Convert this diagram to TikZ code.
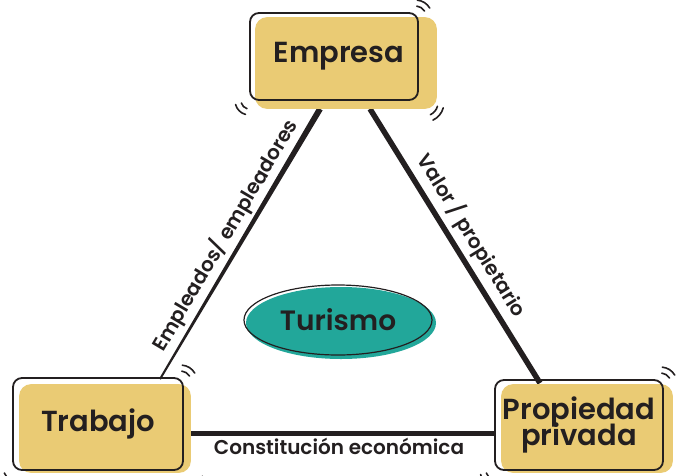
\documentclass[tikz,border=0pt]{standalone}
\usepackage{fontspec}
\setmainfont{Poppins}[BoldFont={Poppins SemiBold}]
\usetikzlibrary{shapes.geometric,calc}
\definecolor{boxy}{HTML}{EACB74}
\definecolor{tealfill}{HTML}{22A79A}
\definecolor{ink}{HTML}{231F20}
\pgfdeclarelayer{lines}
\pgfdeclarelayer{fills}
\pgfsetlayers{lines,fills,main}
\newcommand\cornerticks[1]{%
  \draw[ticks] ($(#1.north east)+(-3,4)+(-85:10)$) arc[start angle=-85, end angle=-30, radius=10];
  \draw[ticks] ($(#1.north east)+(-3,4)+(-85:16)$) arc[start angle=-85, end angle=-30, radius=16];
  \draw[ticks] ($(#1.south west)+(105:8)$) arc[start angle=105, end angle=165, radius=8];
  \draw[ticks] ($(#1.south west)+(105:14)$) arc[start angle=105, end angle=165, radius=14];
  \draw[ticks] ($(#1.south east)+(6,2)+(15:13)$) arc[start angle=15, end angle=65, radius=13];
  \draw[ticks] ($(#1.south east)+(6,2)+(15:19)$) arc[start angle=15, end angle=65, radius=19];
}
\begin{document}
\begin{tikzpicture}[x=1pt,y=-1pt,
  box/.style={draw=ink, line width=1.8pt, rounded corners=9pt, text=ink,
    font=\bfseries\fontsize{29}{29}\selectfont, align=center, inner sep=0pt},
  ticks/.style={draw=ink, line width=1.6pt, line cap=round},
  lbl/.style={text=ink, font=\bfseries\fontsize{20}{22}\selectfont, inner sep=3pt}]
\useasboundingbox (0,0) rectangle (678,475);
\node[box, minimum width=168pt, minimum height=87pt] (emp) at (334,56.5) {\hspace*{10pt}Empresa};
\node[box, minimum width=170pt, minimum height=92pt] (tra) at (98,424) {Trabajo};
\node[box, minimum width=168pt, minimum height=90pt] (pro) at (579,425) {Propiedad\\[-6pt]privada};
\node[ellipse, draw=ink, line width=1.2pt, minimum width=188pt, minimum height=70pt,
  text=ink, font=\bfseries\fontsize{28}{28}\selectfont, inner sep=0pt] (tur) at (338,320) {Turismo};
\coordinate (l1) at ($(emp.south)+(-14,8)$);
\coordinate (l2) at ($(tra.north)+(62,2)$);
\begin{pgfonlayer}{fills}
  \fill[boxy, rounded corners=12pt] ($(emp.north west)+(6,5)$) rectangle ($(emp.south east)+(18,8)$);
  \fill[boxy, rounded corners=12pt] ($(tra.north west)+(7,7)$) rectangle ($(tra.south east)+(7,2)$);
  \fill[boxy, rounded corners=12pt] ($(pro.north west)+(7,5)$) rectangle ($(pro.south east)+(9,2)$);
  \fill[tealfill] ($(tur.center)+(3,3)$) ellipse [x radius=95, y radius=36];
\end{pgfonlayer}
\begin{pgfonlayer}{lines}
  \fill[ink] ($(l1)!3pt!90:(l2)$) -- ($(l2)!1pt!-90:(l1)$) -- ($(l2)!1pt!90:(l1)$) -- ($(l1)!3pt!-90:(l2)$) -- cycle;
  \path (l1) -- (l2) node[midway, sloped, above, lbl, yshift=2pt] {Empleados/ empleadores};
  \draw[ink, line width=5.5pt] ($(emp.south)+(36,8)$) -- ($(pro.north)+(-39,4)$)
    node[midway, sloped, above, lbl, yshift=2pt] {Valor / propietario};
  \draw[ink, line width=5pt] ($(tra.east)+(0,9)$) -- ($(pro.west)+(0,8)$)
    node[midway, below, lbl] {Constitución económica};
\end{pgfonlayer}
\cornerticks{emp}
\cornerticks{tra}
\cornerticks{pro}
\end{tikzpicture}
\end{document}
